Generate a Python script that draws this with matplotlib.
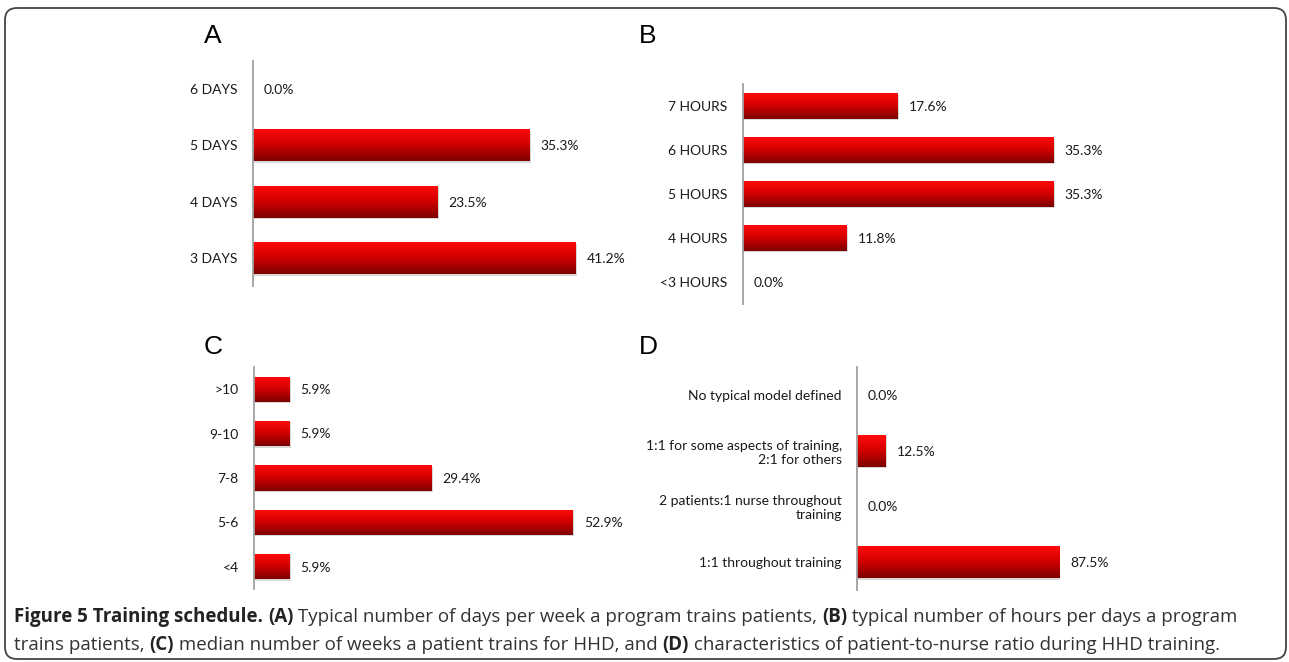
import numpy as np
import matplotlib
matplotlib.use("Agg")
import matplotlib.pyplot as plt
from matplotlib.colors import LinearSegmentedColormap
from matplotlib.patches import FancyBboxPatch

# data (top to bottom)
days_labels = ["6 DAYS", "5 DAYS", "4 DAYS", "3 DAYS"]
days_values = [0.0, 35.3, 23.5, 41.2]

hours_labels = ["7 HOURS", "6 HOURS", "5 HOURS", "4 HOURS", "<3 HOURS"]
hours_values = [17.6, 35.3, 35.3, 11.8, 0.0]

weeks_labels = [">10", "9-10", "7-8", "5-6", "<4"]
weeks_values = [5.9, 5.9, 29.4, 52.9, 5.9]

ratio_labels = ["No typical model defined",
                "1:1 for some aspects of training,\n2:1 for others",
                "2 patients:1 nurse throughout\ntraining",
                "1:1 throughout training"]
ratio_values = [0.0, 12.5, 0.0, 87.5]

W, H = 1289, 662
LABEL_FONT = "Lato"
grad_cmap = LinearSegmentedColormap.from_list("redgrad", ["#ff0a0a", "#d00000", "#7d0000"])


def px_axes(fig, left, top, width, bottom):
    return fig.add_axes([left / W, 1 - bottom / H, width / W, (bottom - top) / H])


def panel(fig, letter, letter_xy, labels, values, left, top, bottom, width, span):
    ax = px_axes(fig, left, top, width, bottom)
    n = len(labels)
    ys = np.arange(n)[::-1]
    h = 0.57
    xmax = max(values) * width / span
    bars = ax.barh(ys, values, height=h, color="none", edgecolor="none")
    grad = np.linspace(0, 1, 64).reshape(-1, 1)
    for b, y, v in zip(bars, ys, values):
        if v <= 0:
            continue
        # soft shadow
        ax.barh(y - 0.03, v + xmax * 0.004, height=h, color="#d8d8d8", zorder=1)
        im = ax.imshow(grad, extent=(0, v, y - h / 2, y + h / 2), origin="upper",
                       aspect="auto", cmap=grad_cmap, zorder=2)
        im.set_clip_path(b)
    for y, v in zip(ys, values):
        ax.text(v + xmax * 11 / width, y - 0.02, f"{v:.1f}%", va="center", ha="left",
                fontsize=10, family=LABEL_FONT, color="#1a1a1a")
    ax.set_xlim(0, xmax)
    ax.set_ylim(-0.5, n - 0.5)
    ax.set_yticks(ys)
    ax.set_yticklabels(labels, fontsize=10, family=LABEL_FONT, color="#1a1a1a")
    ax.tick_params(axis="y", length=0, pad=11)
    ax.set_xticks([])
    for s in ["top", "right", "bottom"]:
        ax.spines[s].set_visible(False)
    ax.spines["left"].set_color("#a0a0a0")
    ax.spines["left"].set_linewidth(1.3)
    ax.patch.set_alpha(0)
    fig.text(letter_xy[0] / W, 1 - letter_xy[1] / H, letter, fontsize=19,
             family="Liberation Sans", ha="center", va="center", color="black")
    return ax


fig = plt.figure(figsize=(W / 100, H / 100), dpi=100)

border = FancyBboxPatch((5, 3), 1281, 651, boxstyle="round,pad=0,rounding_size=12",
                        transform=None, facecolor="none", edgecolor="#444444",
                        linewidth=1.3)
fig.patches.append(border)

panel(fig, "A", (213, 36), days_labels, days_values, 253, 61, 286, 360, 323)
panel(fig, "B", (648, 36), hours_labels, hours_values, 743, 84, 304, 400, 310)
panel(fig, "C", (213, 347), weeks_labels, weeks_values, 254, 367, 589, 360, 319)
panel(fig, "D", (648, 347), ratio_labels, ratio_values, 857, 367, 590, 300, 202)

# caption with mixed bold / regular pieces
cap1 = [("Figure 5 Training schedule. ", "bold"), ("(A)", "bold"),
        (" Typical number of days per week a program trains patients, ", "normal"),
        ("(B)", "bold"), (" typical number of hours per days a program", "normal")]
cap2 = [("trains patients, ", "normal"), ("(C)", "bold"),
        (" median number of weeks a patient trains for HHD, and ", "normal"),
        ("(D)", "bold"), (" characteristics of patient-to-nurse ratio during HHD training.", "normal")]

renderer = fig.canvas.get_renderer()


def rich_line(parts, x0, y0, size=13.5):
    x = x0
    for txt, wt in parts:
        t = fig.text(x / W, 1 - y0 / H, txt, fontsize=size, family="Open Sans",
                     fontweight=wt, va="center", ha="left",
                     color="#222222" if wt == "bold" else "#333333")
        bb = t.get_window_extent(renderer=renderer)
        x += bb.width


rich_line(cap1, 14, 617)
rich_line(cap2, 14, 645)

fig.savefig("out.png", dpi=100)
